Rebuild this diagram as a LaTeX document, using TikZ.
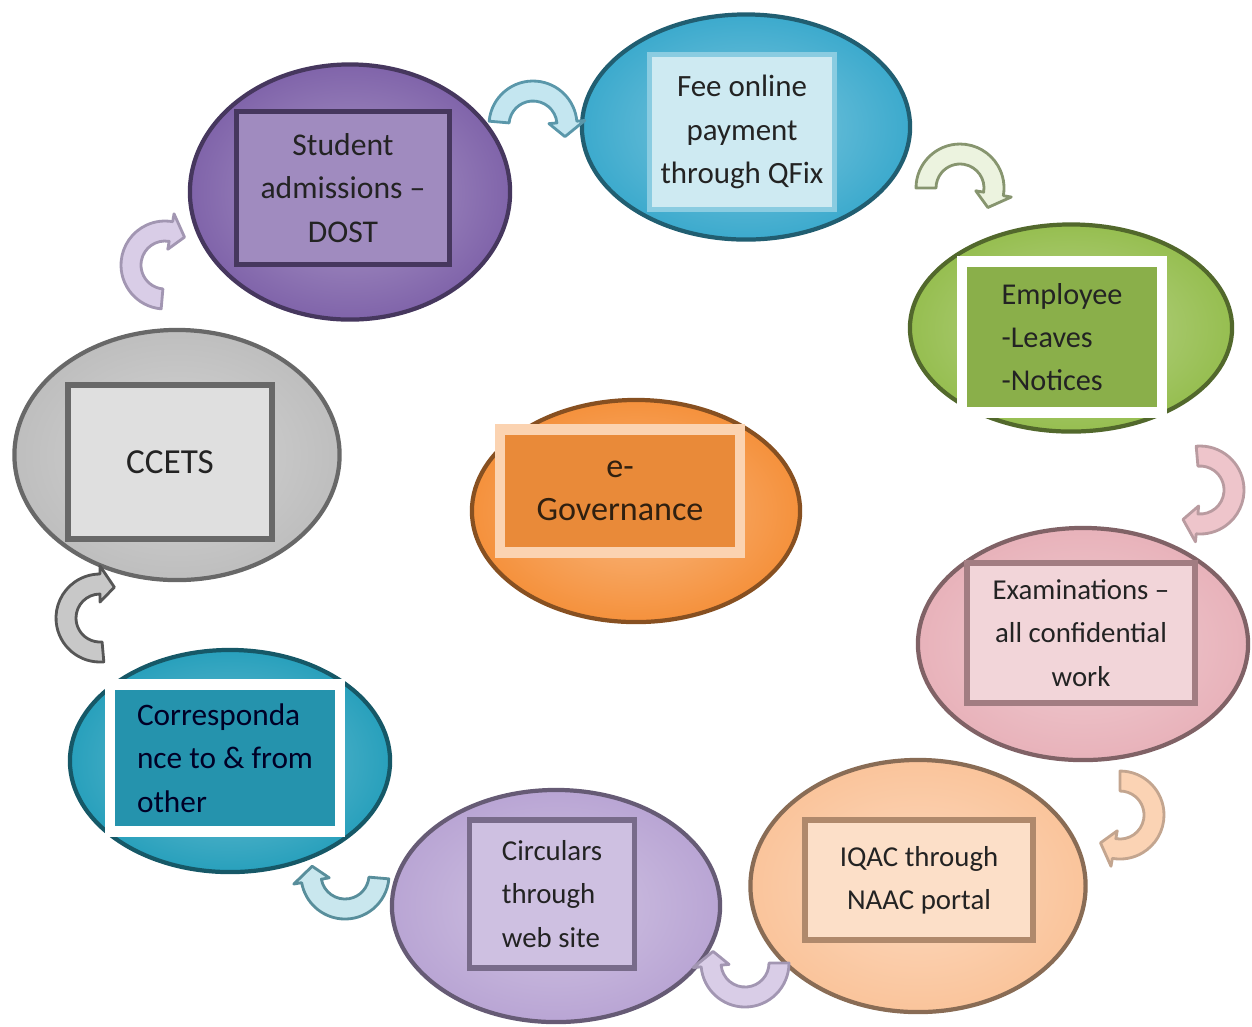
\documentclass[tikz,border=0pt]{standalone}
\usepackage{fontspec}
\setmainfont{Carlito}
\usetikzlibrary{shapes.geometric,positioning}

\definecolor{studC}{RGB}{128,100,170}
\definecolor{feeC}{RGB}{60,170,205}
\definecolor{empC}{RGB}{150,190,80}
\definecolor{examC}{RGB}{232,178,186}
\definecolor{iqacC}{RGB}{250,196,155}
\definecolor{circC}{RGB}{185,165,212}
\definecolor{corrC}{RGB}{40,160,188}
\definecolor{ccetsC}{RGB}{190,190,190}
\definecolor{govC}{RGB}{245,145,60}
\definecolor{txtC}{RGB}{35,35,35}

% curved block arrow: centre, start angle, end angle, tip angle, style
\newcommand\bentarrow[5]{%
  \filldraw[#5,shift={#1}] (#2:44) arc[start angle=#2,end angle=#3,radius=44]
    -- (#3:52) -- (#4:34) -- (#3:16) -- (#3:24)
    arc[start angle=#3,end angle=#2,radius=24] -- cycle;}

\newcommand\lbl[1]{\fontsize{#1}{12.3}\selectfont}

\tikzset{
  bubble/.style={ellipse, draw=#1!55!black, line width=1.2pt,
    inner color=#1!65!white, outer color=#1},
  frame/.style={rectangle, line width=1.6pt, inner sep=2pt,
    text=txtC, font=\lbl{9}},
  barrow/.style={line width=0.8pt, line join=round}
}

\begin{document}
\begin{tikzpicture}[x=0.01cm, y=-0.01cm]
\useasboundingbox (0,0) rectangle (1252,1026);

% bubbles
\node[bubble=studC, minimum width=3.2cm, minimum height=2.55cm] (stud) at (350,192) {};
\node[bubble=feeC, minimum width=3.28cm, minimum height=2.25cm] (fee) at (746,127) {};
\node[bubble=empC, minimum width=3.22cm, minimum height=2.07cm] (emp) at (1071,328) {};
\node[bubble=examC, minimum width=3.3cm, minimum height=2.32cm] (exam) at (1083,644) {};
\node[bubble=iqacC, minimum width=3.35cm, minimum height=2.52cm] (iqac) at (918,886) {};
\node[bubble=circC, minimum width=3.28cm, minimum height=2.32cm] (circ) at (556,906) {};
\node[bubble=corrC, minimum width=3.2cm, minimum height=2.22cm] (corr) at (230,761) {};
\node[bubble=ccetsC, minimum width=3.25cm, minimum height=2.5cm] (ccets) at (177,455) {};
\node[bubble=govC, minimum width=3.28cm, minimum height=2.22cm] (gov) at (636,511) {};

% boxes with text
\node[frame, draw=studC!55!black, fill=studC!75!white, minimum width=2.13cm, minimum height=1.53cm,
  align=center] (studT) at (343,188) {Student\\admissions –\\DOST};
\node[frame, draw=feeC!60!white, fill=feeC!25!white, minimum width=1.85cm, minimum height=1.55cm,
  align=center, font=\lbl{8.8}] (feeT) at (742,132) {Fee online\\payment\\through QFix};
\node[frame, draw=white, line width=3pt, fill=empC!92!black, minimum width=2.0cm, minimum height=1.51cm,
  align=left, font=\lbl{8.6}] (empT) at (1062,337) {Employee\\-Leaves\\-Notices};
\node[frame, draw=examC!70!black, fill=examC!55!white, minimum width=2.28cm, minimum height=1.4cm,
  align=center, font=\lbl{8.2}] (examT) at (1081,633) {Examinations –\\all confidential\\work};
\node[frame, draw=iqacC!70!black, fill=iqacC!55!white, minimum width=2.28cm, minimum height=1.2cm,
  align=center, font=\lbl{8.2}] (iqacT) at (919,880) {IQAC through\\NAAC portal};
\node[frame, draw=circC!65!black, fill=circC!70!white, minimum width=1.65cm, minimum height=1.48cm,
  align=left, font=\lbl{8.2}] (circT) at (552,894) {Circulars\\through\\web site};
\node[frame, draw=white, line width=3pt, fill=corrC!92!black, minimum width=2.3cm, minimum height=1.47cm,
  align=left, text=black!85!blue, font=\lbl{8.9}] (corrT) at (225,758) {Corresponda\\nce to \& from\\other};
\node[frame, draw=ccetsC!55!black, fill=ccetsC!50!white, minimum width=2.04cm, minimum height=1.54cm,
  font=\lbl{10}] (ccetsT) at (170,462) {CCETS};
\node[frame, draw=govC!40!white, line width=3pt, fill=govC!95!black, minimum width=2.4cm, minimum height=1.23cm,
  align=center, text=black!75!brown, font=\lbl{9.7}] (govT) at (620,491) {e-\\Governance};

% arrows between the bubbles
\coordinate (a1) at (533,125);
\coordinate (a2) at (960,188);
\coordinate (a3) at (1200,490);
\coordinate (a4) at (1120,815);
\coordinate (a5) at (745,963);
\coordinate (a6) at (345,875);
\coordinate (a7) at (100,618);
\coordinate (a8) at (165,265);
\bentarrow{(a1)}{-175}{-5}{20}{barrow, fill=feeC!30!white, draw=feeC!55!gray}
\bentarrow{(a2)}{-180}{10}{35}{barrow, fill=empC!18!white, draw=empC!35!gray}
\bentarrow{(a3)}{-95}{95}{120}{barrow, fill=examC!75!white, draw=examC!55!gray}
\bentarrow{(a4)}{-90}{100}{125}{barrow, fill=iqacC!75!white, draw=iqacC!55!gray}
\bentarrow{(a5)}{0}{175}{200}{barrow, fill=circC!55!white, draw=circC!60!gray}
\bentarrow{(a6)}{5}{170}{195}{barrow, fill=corrC!25!white, draw=corrC!45!gray}
\bentarrow{(a7)}{85}{270}{295}{barrow, fill=ccetsC!85!white, draw=ccetsC!45!black}
\bentarrow{(a8)}{95}{280}{305}{barrow, fill=circC!55!white, draw=circC!60!gray}
\end{tikzpicture}
\end{document}
